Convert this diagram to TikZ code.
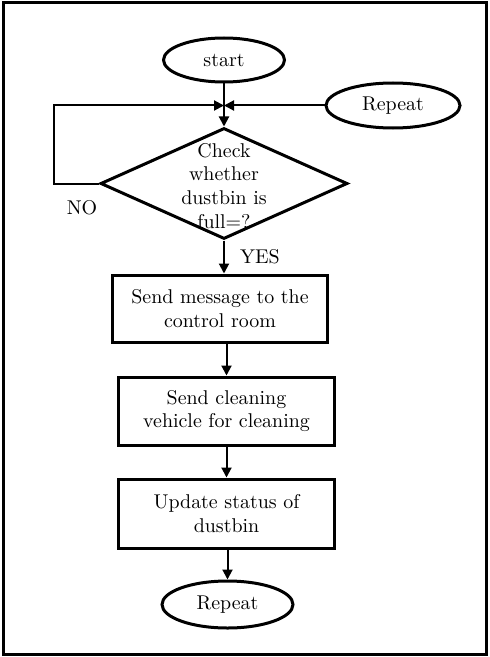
\documentclass[tikz,border=0pt]{standalone}
\usetikzlibrary{shapes.geometric, arrows.meta}

\tikzset{
  oval/.style={draw, ellipse, line width=1.5bp, inner sep=0pt},
  box/.style={draw, rectangle, line width=1.5bp, align=center, inner sep=0pt},
  flow/.style={-{Triangle[length=5bp, width=5bp]}, line width=1bp},
}

\begin{document}
\begin{tikzpicture}[x=0.5bp, y=-0.5bp]

    \useasboundingbox (0,0) rectangle (490,657);

    % 1. Outer frame
    \draw[line width=1.8bp] (3.5,2.5) rectangle (486.5,654.5);

    % 2. Start, repeat and decision
    \node[oval, minimum width=60.5bp, minimum height=22bp] (start) at (224,60) {start};
    \node[oval, minimum width=67bp, minimum height=22.5bp] (rep1) at (393,105.5) {Repeat};
    \node[draw, diamond, line width=1.5bp, minimum width=123.5bp, minimum height=55.5bp, inner sep=0pt] (chk) at (224,183.5) {};
    \node[align=center] (chktxt) at (224,186) {Check\\whether\\dustbin is\\full=?};

    % junction where the loops come back
    \coordinate (J) at (start.south |- rep1.west);

    % 3. Process boxes and end
    \node[box, minimum width=107bp, minimum height=33.5bp] (msg) at (220,308.5) {Send message to the\\control room};
    \node[box, minimum width=107.5bp, minimum height=34bp] (veh) at (226.5,411) {Send cleaning\\vehicle for cleaning};
    \node[box, minimum width=107.5bp, minimum height=34.5bp] (upd) at (226.5,513.5) {Update status of\\dustbin};
    \node[oval, minimum width=65.5bp, minimum height=23.5bp] (rep2) at (227.5,604.5) {Repeat};

    % 4. Connectors
    \draw[flow] (start) -- (chk.north);
    \draw[flow] (rep1.west) -- (J);
    \draw[flow] (chk.west) -- ++(-45,0) |- (J);
    \draw[flow] (chk.south) -- (chk.south |- msg.north);
    \draw[flow] (veh.north |- msg.south) -- (veh.north);
    \draw[flow] (veh.south) -- (upd.north);
    \draw[flow] (rep2.north |- upd.south) -- (rep2.north);

    % 5. Branch labels
    \node (no) at (82,208) {NO};
    \node (yes) at (260,257) {YES};

\end{tikzpicture}
\end{document}
